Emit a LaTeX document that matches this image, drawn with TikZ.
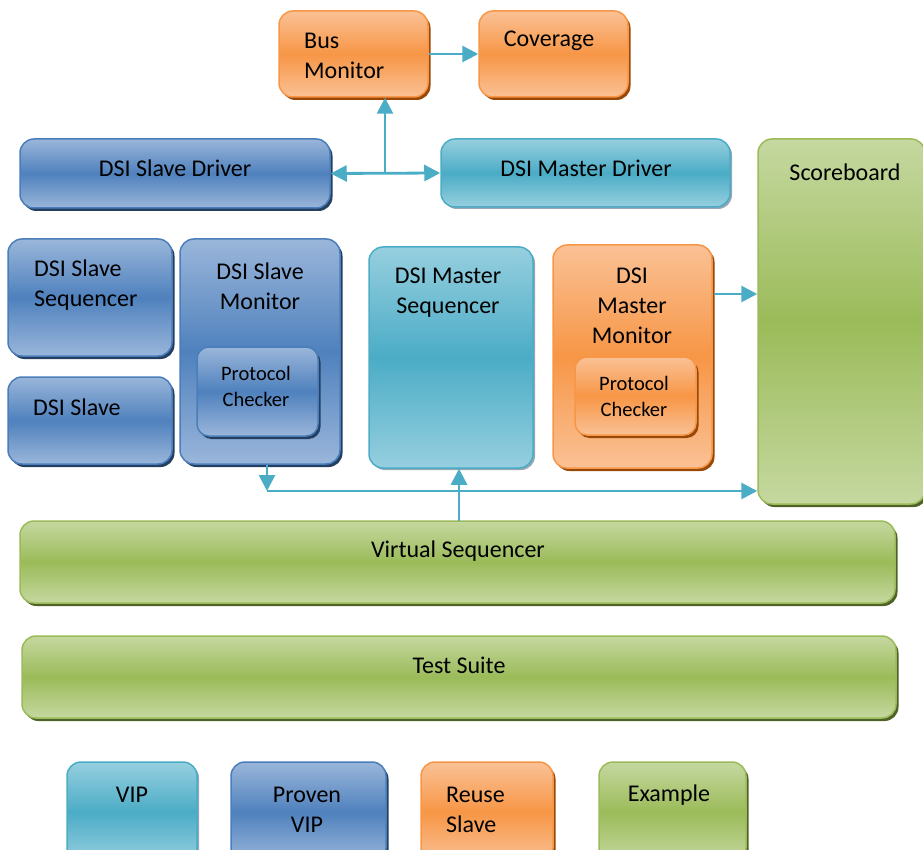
\documentclass[tikz,border=0pt]{standalone}
\usepackage{fontspec}
\setmainfont{Carlito}
\usepackage{tikz}
\usetikzlibrary{arrows.meta,positioning,shadows}

\definecolor{orline}{HTML}{F79646}
\definecolor{orlite}{HTML}{FAC195}
\definecolor{ormid}{HTML}{F79646}
\definecolor{orshad}{HTML}{984807}
\definecolor{blline}{HTML}{4A7EBB}
\definecolor{bllite}{HTML}{9AB6DA}
\definecolor{blmid}{HTML}{4F81BD}
\definecolor{blshad}{HTML}{243F60}
\definecolor{tlline}{HTML}{4BACC6}
\definecolor{tllite}{HTML}{96CFDF}
\definecolor{tlmid}{HTML}{4BACC6}
\definecolor{tlshad}{HTML}{97A5B5}
\definecolor{grline}{HTML}{9BBB59}
\definecolor{grlite}{HTML}{C5D8A0}
\definecolor{grmid}{HTML}{9BBB59}
\definecolor{grshad}{HTML}{4F6228}
\definecolor{wire}{HTML}{4BACC6}

\tikzstyle{blk}=[rounded corners=14pt, line width=1.5pt, inner sep=0pt]
\tikzstyle{orbox}=[blk, draw=orline, top color=orlite, bottom color=orlite, middle color=ormid,
  drop shadow={fill=orshad, opacity=1, shadow xshift=2.5pt, shadow yshift=-3pt}]
\tikzstyle{bluebox}=[blk, draw=blline, top color=bllite, bottom color=bllite, middle color=blmid,
  drop shadow={fill=blshad, opacity=1, shadow xshift=2.5pt, shadow yshift=-3pt}]
\tikzstyle{tealbox}=[blk, draw=tlline, top color=tllite, bottom color=tllite, middle color=tlmid,
  drop shadow={fill=tlshad, opacity=1, shadow xshift=2pt, shadow yshift=-2pt}]
\tikzstyle{greenbox}=[blk, draw=grline, top color=grlite, bottom color=grlite, middle color=grmid,
  drop shadow={fill=grshad, opacity=1, shadow xshift=2.5pt, shadow yshift=-3pt}]
\tikzstyle{lbl}=[align=center, inner sep=0pt]
\tikzstyle{lblsm}=[lbl, font=\fontsize{20.5}{26}\selectfont]
\tikzstyle{wirearrow}=[draw=wire, line width=2.8pt, -{Triangle[length=16pt,width=16pt]}]

\begin{document}
\begin{tikzpicture}[x=1pt,y=-1pt,font=\fontsize{24}{30}\selectfont]
    \useasboundingbox (0,0) rectangle (923,850);
    % top row
    \node [orbox, minimum width=149pt, minimum height=86pt] (busmon) at (353.5,54) {};
    \node [orbox, minimum width=149pt, minimum height=86pt] (cov) at (553.5,54) {};
    \node [bluebox, minimum width=310pt, minimum height=69pt] (sdrv) at (175,173.5) {};
    \node [tealbox, minimum width=289pt, minimum height=68pt] (mdrv) at (585.5,173) {};
    \node [greenbox, minimum width=167pt, minimum height=365pt] (score) at (841.5,321.5) {};
    % slave side
    \node [bluebox, minimum width=164pt, minimum height=117pt] (sseq) at (90,297.5) {};
    \node [bluebox, minimum width=164pt, minimum height=87pt] (sslv) at (90,420.5) {};
    \node [bluebox, minimum width=160pt, minimum height=225pt] (smon) at (260,351.5) {};
    \node [bluebox, rounded corners=12pt, minimum width=121pt, minimum height=89pt] (schk) at (257.5,391.5) {};
    % master side
    \node [tealbox, minimum width=164pt, minimum height=221pt] (mseq) at (451,357.5) {};
    \node [orbox, minimum width=159pt, minimum height=223pt] (mmon) at (632.5,356.5) {};
    \node [orbox, rounded corners=12pt, minimum width=121pt, minimum height=78pt] (mchk) at (635.5,396) {};
    % sequencer and suite
    \node [greenbox, minimum width=875pt, minimum height=82pt] (vseq) at (457.5,562) {};
    \node [greenbox, minimum width=874pt, minimum height=82pt] (suite) at (459,677) {};
    % legend
    \node [tealbox, minimum width=130pt, minimum height=100pt] (lvip) at (132,812) {};
    \node [bluebox, minimum width=155pt, minimum height=100pt] (lprv) at (308.5,812) {};
    \node [orbox, minimum width=132pt, minimum height=100pt] (lreu) at (487,812) {};
    \node [greenbox, minimum width=147pt, minimum height=100pt] (lexm) at (672.5,812) {};

    % texts
    \node [lbl, anchor=west, align=left] (busmon-t) at (304,56) {Bus\\Monitor};
    \node [lbl] (cov-t) at (549,41) {Coverage};
    \node [lbl] (sdrv-t) at (175,168) {DSI Slave Driver};
    \node [lbl] (mdrv-t) at (586,168) {DSI Master Driver};
    \node [lbl] (score-t) at (845,172) {Scoreboard};
    \node [lbl, anchor=west, align=left] (sseq-t) at (34,285) {DSI Slave\\Sequencer};
    \node [lbl, anchor=west] (sslv-t) at (33,407) {DSI Slave};
    \node [lbl] (smon-t) at (260,286) {DSI Slave\\Monitor};
    \node [lblsm] (schk-t) at (256,386) {Protocol\\Checker};
    \node [lbl] (mseq-t) at (448,293) {DSI Master\\Sequencer};
    \node [lbl] (mmon-t) at (632,306) {DSI\\Master\\Monitor};
    \node [lblsm] (mchk-t) at (634,396) {Protocol\\Checker};
    \node [lbl] (vseq-t) at (458,551) {Virtual Sequencer};
    \node [lbl] (suite-t) at (459,665) {Test Suite};
    \node [lbl] (lvip-t) at (132,795) {VIP};
    \node [lbl] (lprv-t) at (307,810) {Proven\\VIP};
    \node [lbl, anchor=west, align=left] (lreu-t) at (446,810) {Reuse\\Slave};
    \node [lbl] (lexm-t) at (669,795) {Example};

    % connectors
    \coordinate (jdrv) at (385,174);
    \coordinate (mmout) at (714,294);
    \coordinate (jbus) at (267,491);
    \coordinate (jvs) at (459,521);
    \path [wirearrow] (busmon.east) -- (cov.west);
    \path [wirearrow, {Triangle[length=16pt,width=16pt]}-{Triangle[length=16pt,width=16pt]}] (sdrv.east) -- (mdrv.west);
    \path [wirearrow] (jdrv) -- (jdrv |- busmon.south);
    \path [wirearrow] (mmout) -- (mmout -| score.west);
    \path [wirearrow] (jbus |- smon.south) -- (jbus);
    \path [wirearrow] (jbus) -- (jbus -| score.west);
    \path [wirearrow] (jvs) -- (jvs |- mseq.south);
\end{tikzpicture}
\end{document}
